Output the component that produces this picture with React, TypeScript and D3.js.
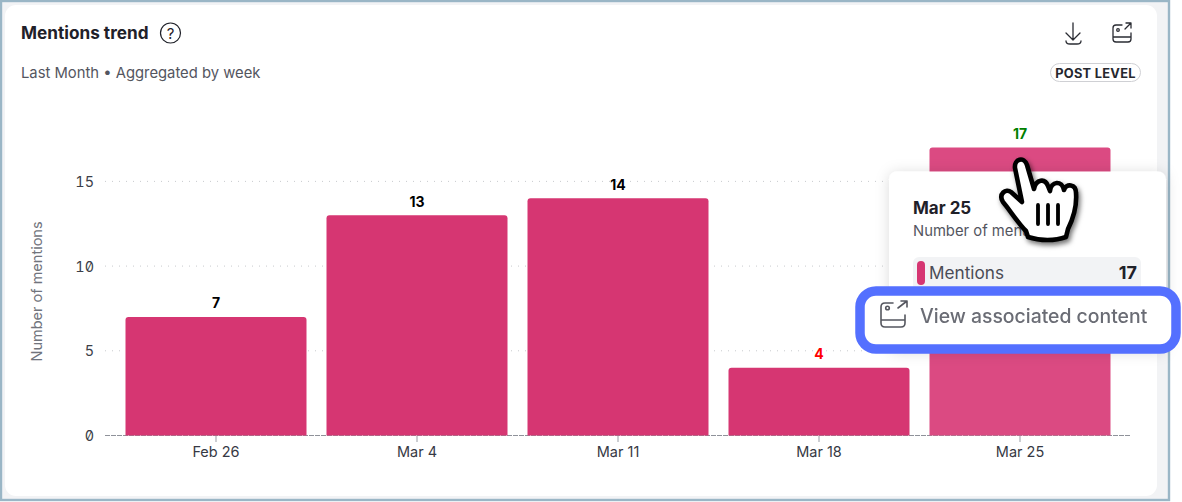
import React from "react";
import * as d3 from "d3";

const categories = ["Feb 26", "Mar 4", "Mar 11", "Mar 18", "Mar 25"];
const mentions = [7, 13, 14, 4, 17];
const labelColors = ["#000000", "#000000", "#000000", "#ff0000", "#008000"];
const barColors = ["#d63672", "#d63672", "#d63672", "#d63672", "#db4a82"];
const yTicks = [0, 5, 10, 15];

const FONT = "Inter, 'Noto Sans', sans-serif";

const x = d3.scaleBand<string>().domain(categories).range([115.5, 1120.5]).paddingInner(20 / 201).paddingOuter(10 / 201);
const y = d3.scaleLinear().domain([0, 17]).range([435.5, 147.5]);

const handPath =
  "M1015 168 C1014 159 1024 156 1027 165 L1034 189 C1036 179 1045 178 1048 186 L1050 191 C1051 181 1062 180 1064 190 C1066 183 1076 184 1076 193 C1077 206 1073 219 1068 229 L1066 237 C1055 241 1040 241 1028 237 L1026 231 C1018 223 1009 209 1003 202 C998 194 1006 188 1011 192 L1022 202 Z";

export default function App() {
  return (
    <svg width={1182} height={502} viewBox="0 0 1182 502" style={{ position: "fixed", left: 0, top: 0, display: "block", fontFamily: FONT }}>
      <defs>
        <filter id="tipShadow" x="-20%" y="-20%" width="140%" height="140%">
          <feDropShadow dx="0" dy="1" stdDeviation="7" floodColor="#000" floodOpacity="0.14" />
        </filter>
        <filter id="handShadow" x="-30%" y="-30%" width="160%" height="160%">
          <feDropShadow dx="2" dy="3" stdDeviation="2.5" floodColor="#000" floodOpacity="0.55" />
        </filter>
        <filter id="soft"><feGaussianBlur stdDeviation="0.55" /></filter>
      </defs>

      <rect width={1182} height={502} fill="#ffffff" />
      <rect x={1} y={1} width={1168} height={499} fill="#f2f3f5" stroke="#9ab6c6" strokeWidth={2.4} />
      <rect x={5} y={5} width={1152} height={491} rx={11} fill="#ffffff" />

      <text x={21} y={38.5} fontSize={17.2} fontWeight={700} fill="#1f2129">Mentions trend</text>
      <circle cx={170.5} cy={33} r={10} fill="none" stroke="#1f2129" strokeWidth={1.2} />
      <text x={170.5} y={38.5} fontSize={15} textAnchor="middle" fill="#1f2129">?</text>
      <text x={21} y={78} fontSize={14.8} fill="#54565f">Last Month • Aggregated by week</text>

      <g fill="none" stroke="#2a2c33" strokeWidth={1.3} strokeLinecap="round" strokeLinejoin="round">
        <path d="M1073 23 V39 M1066 33 L1073 40 L1080 33 M1066 41 C1066 44 1068 44 1070 44 H1077 C1079 44 1081 44 1081 41" />
        <path d="M1122 25 H1116 Q1113 25 1113 28 V39 Q1113 42 1116 42 H1128 Q1131 42 1131 39 V33 M1113 37 H1131 M1125 29 L1131 23 M1126 23 H1131 V28" />
        <circle cx={1118} cy={30} r={1.3} />
      </g>
      <rect x={1050.5} y={63.5} width={90} height={18} rx={9} fill="#fff" stroke="#cfd0d4" />
      <text x={1095.5} y={77.5} fontSize={12.8} fontWeight={700} textAnchor="middle" fill="#25272e" letterSpacing={0.3}>POST LEVEL</text>

      {yTicks.filter((t) => t > 0).map((t) => (
        <line key={t} x1={105} x2={1131} y1={y(t)} y2={y(t)} stroke="#c8cacd" strokeDasharray="1 6" />
      ))}
      <line x1={105} x2={1131} y1={y(0)} y2={y(0)} stroke="#8f929a" strokeDasharray="5 1" />
      {yTicks.map((t) => (
        <text key={t} x={94} y={y(t) + 5.5} fontSize={14.4} textAnchor="end" fill="#3c3f49" style={{ fontFeatureSettings: "'zero','tnum'" }}>{t}</text>
      ))}
      <text transform="translate(42 291.5) rotate(-90)" fontSize={14.5} textAnchor="middle" fill="#71747c">Number of mentions</text>

      {categories.map((c, i) => {
        const bx = x(c) as number;
        const cx = bx + x.bandwidth() / 2;
        return (
          <g key={c}>
            <path
              d={`M${bx} ${y(0)} V${y(mentions[i]) + 3} Q${bx} ${y(mentions[i])} ${bx + 3} ${y(mentions[i])} H${bx + x.bandwidth() - 3} Q${bx + x.bandwidth()} ${y(mentions[i])} ${bx + x.bandwidth()} ${y(mentions[i]) + 3} V${y(0)} Z`}
              fill={barColors[i]}
            />
            <text x={cx} y={y(mentions[i]) - 8.5} fontSize={14} fontWeight={700} textAnchor="middle" fill={labelColors[i]}>{mentions[i]}</text>
            <line x1={cx} x2={cx} y1={436} y2={442} stroke="#9a9da5" />
            <text x={cx} y={457} fontSize={14.5} textAnchor="middle" fill="#363944">{c}</text>
          </g>
        );
      })}

      <rect x={889} y={171.5} width={277} height={180} rx={8} fill="#fff" filter="url(#tipShadow)" />
      <text x={913} y={213.5} fontSize={17} fontWeight={700} fill="#1f2129">{categories[4]}</text>
      <text x={913} y={236} fontSize={14.8} fill="#54565f">Number of mentions</text>
      <rect x={913} y={257} width={228} height={34} rx={6} fill="#f2f3f5" />
      <rect x={917} y={261} width={8} height={24} rx={4} fill="#d63672" />
      <text x={929} y={279} fontSize={17.2} fill="#4a4c55">Mentions</text>
      <text x={1137} y={279} fontSize={18} fontWeight={700} textAnchor="end" fill="#1f2129">{mentions[4]}</text>

      <rect x={860} y={291} width={316} height={58} rx={16} fill="#ffffff" stroke="#5470ff" strokeWidth={9.5} />
      <g filter="url(#soft)">
        <g fill="none" stroke="#55575f" strokeWidth={1.6} strokeLinecap="round" strokeLinejoin="round">
          <path d="M893 303 H885 Q881 303 881 307 V323 Q881 327 885 327 H901 Q905 327 905 323 V315 M881 320 H905 M898 308 L907 301 M901 301 H907 V307" />
          <circle cx={887.5} cy={308} r={1.8} />
        </g>
        <text x={920} y={323} fontSize={19.4} fontWeight={500} fill="#6a6c74">View associated content</text>
      </g>

      <g filter="url(#handShadow)">
        <path d={handPath} fill="#ffffff" stroke="#000000" strokeWidth={4.6} strokeLinejoin="round" />
        <path d="M1038 205 V224 M1048 205 V224 M1058 205 V224" stroke="#000" strokeWidth={3.8} strokeLinecap="round" fill="none" />
      </g>
    </svg>
  );
}
